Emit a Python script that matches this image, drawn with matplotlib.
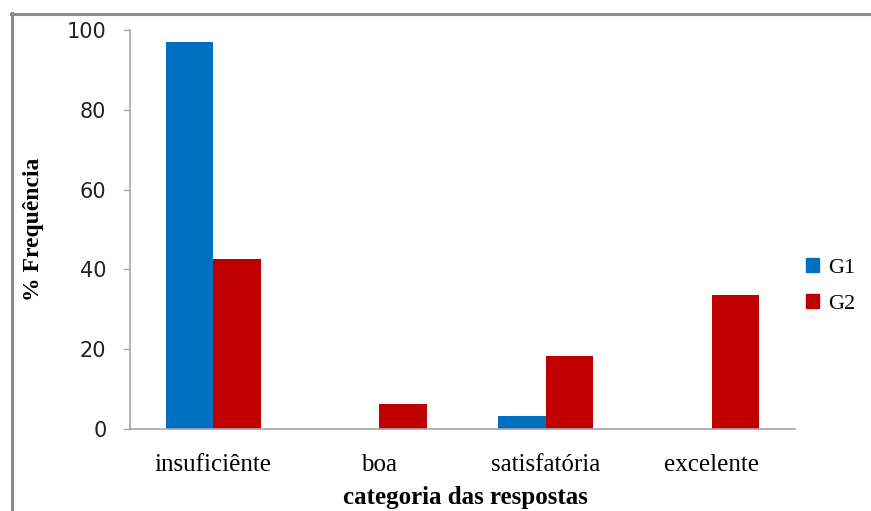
import numpy as np
import matplotlib
matplotlib.use("Agg")
import matplotlib.pyplot as plt
from matplotlib.lines import Line2D
from matplotlib.patches import Patch

# frequency (%) of each answer category, per group
categorias = ["insuficiênte", "boa", "satisfatória", "excelente"]
g1 = [97.0, 0.0, 3.2, 0.0]
g2 = [42.6, 6.1, 18.2, 33.5]
yticks = [0, 20, 40, 60, 80, 100]

azul = "#0070C0"
vermelho = "#C00000"
cinza = "#A6A6A6"

fig = plt.figure(figsize=(8.71, 5.11), dpi=100)
W, H = 871, 511
ax = fig.add_axes([130 / W, 1 - 428.7 / H, (795 - 130) / W, (428.7 - 30.3) / H])

x = np.arange(len(categorias))
w = 1 / 3.5
ax.bar(x - w / 2, g1, width=w, color=azul, label="G1")
ax.bar(x + w / 2, g2, width=w, color=vermelho, label="G2")

ax.set_xlim(-0.5, len(categorias) - 0.5)
ax.set_ylim(0, 100)
ax.set_yticks(yticks)
ax.set_yticklabels([str(v) for v in yticks], fontsize=15, family="DejaVu Sans", color="#222222")
ax.set_xticks(x)
ax.set_xticklabels(categorias, fontsize=18, family="Liberation Serif")
ax.tick_params(axis="x", length=0, pad=18)
ax.tick_params(axis="y", length=5, width=1, color=cinza, pad=12)

for s in ["top", "right"]:
    ax.spines[s].set_visible(False)
for s in ["left", "bottom"]:
    ax.spines[s].set_color(cinza)
    ax.spines[s].set_linewidth(1.2)

fig.text(465 / W, 1 - 497 / H, "categoria das respostas", fontsize=18,
         family="Liberation Serif", fontweight="bold", ha="center", va="center")
fig.text(33 / W, 1 - 229 / H, "% Frequência", fontsize=17, family="Liberation Serif",
         fontweight="bold", rotation=90, ha="center", va="center")

handles = [Patch(color=azul, label="G1"), Patch(color=vermelho, label="G2")]
fig.legend(handles=handles, loc="center left", bbox_to_anchor=(806 / W, 1 - 286 / H),
           frameon=False, borderpad=0, borderaxespad=0,
           prop={"family": "Liberation Serif", "size": 16},
           handlelength=0.6, handleheight=0.6, handletextpad=0.4, labelspacing=0.7)

# outer frame: only top and left edges show
fig.add_artist(Line2D([12 / W, 12 / W], [0, 1 - 13.5 / H], color="#8C8C8C", lw=2.2))
fig.add_artist(Line2D([11 / W, 1], [1 - 14 / H, 1 - 14 / H], color="#8C8C8C", lw=2.2))

fig.savefig("out.png", dpi=100)
